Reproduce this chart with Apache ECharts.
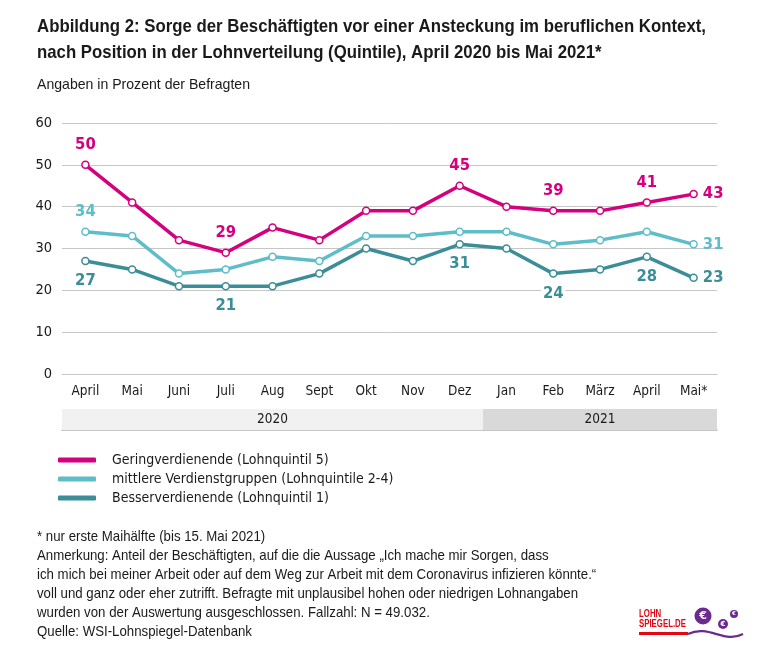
<!DOCTYPE html>
<html>
<head>
<meta charset="utf-8">
<script src="https://cdn.jsdelivr.net/npm/echarts@6/dist/echarts.min.js"></script>
<style>
html,body{margin:0;padding:0;background:#fff;}
#c{width:768px;height:660px;}
</style>
</head>
<body>
<div id="c"></div>
<script>
const months = ['April','Mai','Juni','Juli','Aug','Sept','Okt','Nov','Dez','Jan','Feb','März','April','Mai*'];
const seriesNames = ['Geringverdienende (Lohnquintil 5)','mittlere Verdienstgruppen (Lohnquintile 2-4)','Besserverdienende (Lohnquintil 1)'];
const gering   = [50,41,32,29,35,32,39,39,45,40,39,39,41,43];
const mittlere = [34,33,24,25,28,27,33,33,34,34,31,32,34,31];
const besser   = [27,25,21,21,21,24,30,27,31,30,24,25,28,23];
const yTicks = [0,10,20,30,40,50,60];
const years = [{name:'2020', from:0, to:9}, {name:'2021', from:9, to:14}];
const geringLabelIdx = [0,3,8,10,12,13];
const mittlereLabelIdx = [0,13];
const besserLabelIdx = [0,3,8,10,12,13];
const titleLines = ['Abbildung 2: Sorge der Beschäftigten vor einer Ansteckung im beruflichen Kontext,',
                    'nach Position in der Lohnverteilung (Quintile), April 2020 bis Mai 2021*'];
const subtitle = 'Angaben in Prozent der Befragten';
const footer = [
  '* nur erste Maihälfte (bis 15. Mai 2021)',
  'Anmerkung: Anteil der Beschäftigten, auf die die Aussage „Ich mache mir Sorgen, dass',
  'ich mich bei meiner Arbeit oder auf dem Weg zur Arbeit mit dem Coronavirus infizieren könnte.“',
  'voll und ganz oder eher zutrifft. Befragte mit unplausibel hohen oder niedrigen Lohnangaben',
  'wurden von der Auswertung ausgeschlossen. Fallzahl: N = 49.032.',
  'Quelle: WSI-Lohnspiegel-Datenbank'
];

const FONT = '"DejaVu Sans Condensed","DejaVu Sans",sans-serif';
const SFONT = '"Liberation Sans",Arial,sans-serif';
const colors = ['#d5007f','#5dbdc8','#3b8e97'];

const mctx = document.createElement('canvas').getContext('2d');
function fit(text, weight, size, target){
  mctx.font = weight + ' ' + size + 'px ' + SFONT;
  return target / mctx.measureText(text).width;
}
const titleScale = fit(titleLines[0], 'bold', 19, 669);
const subScale = fit(subtitle, 'normal', 14.5, 213);
const footScale = fit(footer[3], 'normal', 14.5, 541);

function buildData(values, idxs, pos, color){
  return values.map((v,i)=>{
    if(idxs.indexOf(i) < 0) return v;
    const last = i === values.length-1;
    return {value:v, label:{show:true, position: last ? 'right' : pos, distance: last ? 3 : 7,
      color:color, fontFamily:FONT, fontWeight:'bold', fontSize:16.5,
      backgroundColor: pos==='bottom' && !last ? '#fff' : 'transparent', padding:[0,2]}};
  });
}

const chart = echarts.init(document.getElementById('c'), null, {renderer:'canvas'});
function lineSeries(name, values, idxs, pos, color, z){
  return {
    name:name, type:'line', xAxisIndex:0, yAxisIndex:0,
    data: buildData(values, idxs, pos, color),
    symbol:'circle', symbolSize:7, z:z,
    lineStyle:{color:color, width:3.5},
    itemStyle:{color:'#fff', borderColor:color, borderWidth:1.5},
    emphasis:{disabled:true},
    label:{show:false}
  };
}

const graphics = [];
titleLines.forEach((t,i)=>{
  graphics.push({type:'text', x:37, y:27 + i*26, scaleX:titleScale,
    style:{text:t, fontFamily:SFONT, fontWeight:'bold', fontSize:19, fill:'#1a1a1a', verticalAlign:'middle'}});
});
graphics.push({type:'text', x:37, y:85, scaleX:subScale,
  style:{text:subtitle, fontFamily:SFONT, fontSize:14.5, fill:'#1a1a1a', verticalAlign:'middle'}});
footer.forEach((t,i)=>{
  graphics.push({type:'text', x:37, y:537 + i*19, scaleX:footScale,
    style:{text:t, fontFamily:SFONT, fontSize:14.5, fill:'#1a1a1a', verticalAlign:'middle'}});
});
const logoScale = fit('SPIEGEL.DE', 'bold', 10, 47);
graphics.push({type:'group', x:639, y:603, children:[
  {type:'text', x:0, y:11, scaleX:logoScale, style:{text:'LOHN', fontFamily:SFONT, fontWeight:'bold', fontSize:10, fill:'#e30613', verticalAlign:'middle'}},
  {type:'text', x:0, y:21, scaleX:logoScale, style:{text:'SPIEGEL.DE', fontFamily:SFONT, fontWeight:'bold', fontSize:10, fill:'#e30613', verticalAlign:'middle'}},
  {type:'rect', shape:{x:0, y:29, width:49, height:3}, style:{fill:'#e30613'}},
  {type:'bezierCurve', shape:{x1:49, y1:31, x2:104, y2:31, cpx1:70, cpy1:21, cpx2:85, cpy2:41}, style:{stroke:'#6a2a8e', lineWidth:2.2, fill:null}},
  {type:'circle', shape:{cx:64, cy:13, r:8.5}, style:{fill:'#6a2a8e'}},
  {type:'text', x:64, y:13, style:{text:'€', align:'center', verticalAlign:'middle', fontFamily:'DejaVu Sans', fontWeight:'bold', fontSize:11, fill:'#fff'}},
  {type:'circle', shape:{cx:84, cy:21, r:5}, style:{fill:'#6a2a8e'}},
  {type:'text', x:84, y:21, style:{text:'€', align:'center', verticalAlign:'middle', fontFamily:'DejaVu Sans', fontWeight:'bold', fontSize:7, fill:'#fff'}},
  {type:'circle', shape:{cx:95, cy:11, r:4}, style:{fill:'#6a2a8e'}},
  {type:'text', x:95, y:11, style:{text:'€', align:'center', verticalAlign:'middle', fontFamily:'DejaVu Sans', fontWeight:'bold', fontSize:5.5, fill:'#fff'}}
]});

const option = {
  animation:false,
  backgroundColor:'#fff',
  textStyle:{fontFamily:FONT},
  legend:{
    orient:'vertical', left:58, top:453, padding:0, itemWidth:38, itemHeight:5, itemGap:5,
    icon:'roundRect', selectedMode:false,
    textStyle:{fontFamily:FONT, fontSize:14, color:'#1a1a1a', padding:[0,0,0,11]},
    data: seriesNames.map((n,i)=>({name:n, itemStyle:{color:colors[i], borderWidth:0}}))
  },
  grid:[
    {left:62, right:51, top:123, bottom:286, containLabel:false},
    {left:62, right:51, top:409, height:21, containLabel:false}
  ],
  xAxis:[
    {type:'category', gridIndex:0, data:months, boundaryGap:true,
     axisLine:{show:true, lineStyle:{color:'#c6c6c6', width:1}},
     axisTick:{show:false},
     axisLabel:{fontFamily:FONT, fontSize:13.5, color:'#1a1a1a', margin:10, interval:0}},
    {type:'value', gridIndex:1, min:0, max:months.length, show:true,
     axisLine:{show:true, lineStyle:{color:'#b3b3b3', width:1.5}},
     axisTick:{show:false}, axisLabel:{show:false}, splitLine:{show:false}}
  ],
  yAxis:[
    {type:'value', gridIndex:0, min:0, max:60, interval:10,
     axisLine:{show:false}, axisTick:{show:false},
     axisLabel:{fontFamily:FONT, fontSize:14.5, color:'#1a1a1a', margin:10,
       formatter:v=> yTicks.indexOf(v)>=0 ? String(v) : ''},
     splitLine:{lineStyle:{color:'#c6c6c6', width:1}}},
    {type:'value', gridIndex:1, min:0, max:1, show:false}
  ],
  series:[
    lineSeries(seriesNames[2], besser, besserLabelIdx, 'bottom', colors[2], 3),
    lineSeries(seriesNames[1], mittlere, mittlereLabelIdx, 'top', colors[1], 4),
    lineSeries(seriesNames[0], gering, geringLabelIdx, 'top', colors[0], 5),
    {
      type:'custom', xAxisIndex:1, yAxisIndex:1, silent:true, z:1,
      data: years.map(y=>[y.from, y.to, y.name]),
      renderItem:function(params, api){
        const p0 = api.coord([api.value(0), 1]);
        const p1 = api.coord([api.value(1), 0]);
        const fill = params.dataIndex === 0 ? '#f1f1f1' : '#d9d9d9';
        return {
          type:'group',
          children:[
            {type:'rect', shape:{x:p0[0], y:p0[1], width:p1[0]-p0[0], height:p1[1]-p0[1]}, style:{fill:fill}},
            {type:'text', style:{text:years[params.dataIndex].name, x:(p0[0]+p1[0])/2, y:(p0[1]+p1[1])/2,
              align:'center', verticalAlign:'middle', fontFamily:FONT, fontSize:13.5, fill:'#1a1a1a'}}
          ]
        };
      }
    }
  ],
  graphic: graphics
};
chart.setOption(option);
</script>
</body>
</html>
